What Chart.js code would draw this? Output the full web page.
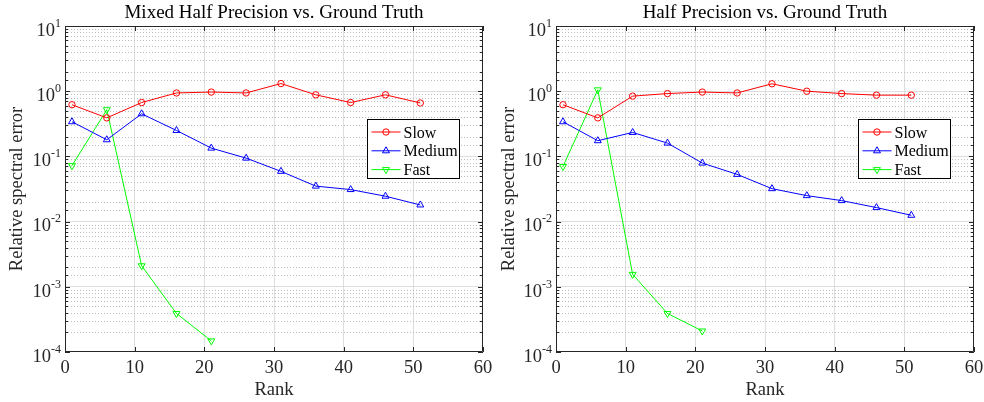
<!DOCTYPE html>
<html>
<head>
<meta charset="utf-8">
<script src="https://cdn.jsdelivr.net/npm/chart.js@4/dist/chart.umd.min.js"></script>
<style>
  html, body { margin: 0; padding: 0; background: #fff; }
  .row { display: flex; width: 984px; height: 402px; }
  .cell { position: relative; width: 492px; height: 402px; }
</style>
</head>
<body>
<div class="row">
  <div class="cell"><canvas id="left"></canvas></div>
  <div class="cell"><canvas id="right"></canvas></div>
</div>
<script>
const ranks = [1, 6, 11, 16, 21, 26, 31, 36, 41, 46, 51];
const fastRanks = [1, 6, 11, 16, 21];

const mixedSlow = [0.62, 0.39, 0.67, 0.94, 0.97, 0.94, 1.31, 0.88, 0.67, 0.88, 0.66];
const mixedMedium = [0.34, 0.18, 0.45, 0.25, 0.134, 0.094, 0.059, 0.035, 0.031, 0.0245, 0.018];
const mixedFast = [0.072, 0.52, 0.0021, 0.00039, 0.000148];

const halfSlow = [0.62, 0.39, 0.84, 0.92, 0.97, 0.94, 1.3, 1.0, 0.92, 0.87, 0.87];
const halfMedium = [0.34, 0.174, 0.233, 0.16, 0.079, 0.053, 0.032, 0.025, 0.021, 0.0164, 0.0125];
const halfFast = [0.07, 1.05, 0.00155, 0.00039, 0.00021];

const xTicks = [0, 10, 20, 30, 40, 50, 60];
const yPowers = [-4, -3, -2, -1, 0, 1];

const SERIF = '"Liberation Serif", "Times New Roman", serif';
const AXIS = '#262626';

function pts(xs, ys) {
  return xs.map((x, i) => ({ x, y: ys[i] }));
}

function isMajorLog(v) {
  const l = Math.log10(v);
  return Math.abs(l - Math.round(l)) < 1e-9;
}

// dotted minor grid under the lines
const minorGrid = {
  id: 'minorGrid',
  beforeDatasetsDraw(chart) {
    const { ctx, chartArea: a, scales } = chart;
    ctx.save();
    ctx.strokeStyle = '#bdbdbd';
    ctx.lineWidth = 1;
    ctx.setLineDash([1, 2]);
    ctx.beginPath();
    scales.y.ticks.forEach(t => {
      if (isMajorLog(t.value)) return;
      const y = Math.round(scales.y.getPixelForValue(t.value)) + 0.5;
      ctx.moveTo(a.left, y); ctx.lineTo(a.right, y);
    });
    ctx.stroke();
    ctx.restore();
  }
};

// box, inward ticks, y labels with superscripts, title, legend
const matlabLook = {
  id: 'matlabLook',
  afterDraw(chart, args, opts) {
    const { ctx, chartArea: a, scales } = chart;
    const xs = scales.x, ys = scales.y;
    ctx.save();
    ctx.strokeStyle = AXIS;
    ctx.lineWidth = 1;
    ctx.beginPath();
    ctx.rect(a.left + 0.5, a.top + 0.5, a.right - a.left - 1, a.bottom - a.top - 1);
    ctx.stroke();

    ctx.beginPath();
    ys.ticks.forEach(t => {
      const y = Math.round(ys.getPixelForValue(t.value)) + 0.5;
      const len = isMajorLog(t.value) ? 5 : 3;
      ctx.moveTo(a.left, y); ctx.lineTo(a.left + len, y);
      ctx.moveTo(a.right, y); ctx.lineTo(a.right - len, y);
    });
    xs.ticks.forEach(t => {
      const x = Math.round(xs.getPixelForValue(t.value)) + 0.5;
      ctx.moveTo(x, a.bottom); ctx.lineTo(x, a.bottom - 5);
      ctx.moveTo(x, a.top); ctx.lineTo(x, a.top + 5);
    });
    ctx.stroke();

    // y tick labels 10^n
    ctx.fillStyle = AXIS;
    ctx.textBaseline = 'alphabetic';
    ctx.textAlign = 'left';
    yPowers.forEach(p => {
      const y = ys.getPixelForValue(Math.pow(10, p));
      const sup = p < 0 ? '-' + (-p) : String(p);
      ctx.font = '18.5px ' + SERIF;
      const wb = ctx.measureText('10').width;
      ctx.font = '12px ' + SERIF;
      const ws = ctx.measureText(sup).width;
      const x0 = a.left - 4 - wb - ws;
      ctx.font = '18.5px ' + SERIF;
      ctx.fillText('10', x0, y + 9.8);
      ctx.font = '12px ' + SERIF;
      ctx.fillText(sup, x0 + wb, y + 0.8);
    });

    // title
    ctx.fillStyle = '#000';
    ctx.font = '19px ' + SERIF;
    ctx.textAlign = 'center';
    ctx.fillText(opts.title, (a.left + a.right) / 2, 18);

    // legend
    const bw = 92, bh = 59;
    const bx = Math.round(a.right - 24.5 - bw) + 0.5, by = 119.5;
    ctx.fillStyle = '#fff';
    ctx.fillRect(bx, by, bw, bh);
    ctx.strokeStyle = '#000';
    ctx.lineWidth = 1;
    ctx.strokeRect(bx, by, bw, bh);
    chart.data.datasets.forEach((ds, i) => {
      const y = by + 12.5 + i * 18.8;
      ctx.strokeStyle = ds.borderColor;
      ctx.lineWidth = 1;
      ctx.beginPath();
      ctx.moveTo(bx + 4, y); ctx.lineTo(bx + 33, y);
      ctx.stroke();
      ctx.fillStyle = 'rgba(0,0,0,0)';
      Chart.helpers.drawPoint(ctx, {
        pointStyle: ds.pointStyle, radius: ds.pointRadius, rotation: ds.pointRotation || 0,
        borderWidth: 1
      }, bx + 18.5, y);
      ctx.fillStyle = '#000';
      ctx.font = '16px ' + SERIF;
      ctx.textAlign = 'left';
      ctx.fillText(ds.label, bx + 36, y + 5.5);
    });
    ctx.restore();
  }
};

function makeChart(id, title, slow, medium, fast, padLeft, padRight) {
  const series = (label, data, color, style, rot) => ({
    label, data, borderColor: color, backgroundColor: color,
    borderWidth: 1, pointStyle: style, pointRotation: rot, pointRadius: style === 'circle' ? 3.2 : 4,
    pointBackgroundColor: 'rgba(0,0,0,0)', pointBorderColor: color, pointBorderWidth: 1,
    tension: 0, fill: false
  });
  return new Chart(document.getElementById(id), {
    type: 'line',
    data: {
      datasets: [
        series('Slow', pts(ranks, slow), '#ff0000', 'circle', 0),
        series('Medium', pts(ranks, medium), '#0000ff', 'triangle', 0),
        series('Fast', pts(fastRanks, fast), '#00ff00', 'triangle', 180)
      ]
    },
    options: {
      responsive: false,
      animation: false,
      layout: { padding: { left: 0, right: padRight, top: 26, bottom: 0 } },
      plugins: { legend: { display: false }, title: { display: false }, tooltip: { enabled: false },
        matlabLook: { title } },
      scales: {
        x: {
          type: 'linear', min: 0, max: 60,
          afterBuildTicks: s => { s.ticks = xTicks.map(v => ({ value: v })); },
          grid: { color: ctx => (ctx.tick && (ctx.tick.value === 0 || ctx.tick.value === 60)) ? 'rgba(0,0,0,0)' : '#dedede', drawTicks: false, lineWidth: 1 },
          border: { display: false },
          ticks: { color: AXIS, font: { family: SERIF, size: 18.5 }, padding: 5, maxRotation: 0 },
          title: { display: true, text: 'Rank', color: AXIS, font: { family: SERIF, size: 18.5 }, padding: { top: 0, bottom: 1 } },
          afterFit: s => { s.height = 50; s.paddingLeft = 0; s.paddingRight = 0; }
        },
        y: {
          type: 'logarithmic', min: 1e-4, max: 10,
          grid: {
            color: ctx => {
              if (!ctx.tick) return '#dedede';
              const v = ctx.tick.value;
              if (!isMajorLog(v) || v <= 1e-4 * 1.0001 || v >= 10 * 0.9999) return 'rgba(0,0,0,0)';
              return '#dedede';
            },
            drawTicks: false, lineWidth: 1
          },
          border: { display: false },
          ticks: { display: false, autoSkip: false },
          title: { display: true, text: 'Relative spectral error', color: AXIS, font: { family: SERIF, size: 18.5 }, padding: { top: 6, bottom: 0 } },
          afterFit: s => { s.width = padLeft; s.paddingTop = 0; s.paddingBottom = 0; }
        }
      }
    },
    plugins: [minorGrid, matlabLook]
  });
}

document.getElementById('left').width = 492;
document.getElementById('left').height = 402;
document.getElementById('right').width = 492;
document.getElementById('right').height = 402;

makeChart('left', 'Mixed Half Precision vs. Ground Truth', mixedSlow, mixedMedium, mixedFast, 65, 9);
makeChart('right', 'Half Precision vs. Ground Truth', halfSlow, halfMedium, halfFast, 64, 10);
</script>
</body>
</html>
